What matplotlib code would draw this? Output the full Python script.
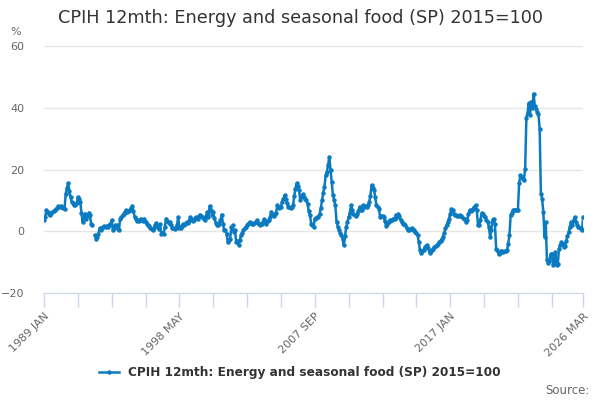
import matplotlib
matplotlib.use("Agg")
import matplotlib.pyplot as plt
import numpy as np

# monthly 12-month rate, %, 1989 JAN .. 2026 MAR
y1989 = [3.6, 4.5, 6.8, 6.2, 5.6, 5.4, 5.8, 6.2, 6.6, 6.8, 7.2, 7.6]
y1990 = [8.1, 7.8, 8.2, 8.0, 7.5, 7.3, 12.2, 14.0, 15.5, 13.0, 11.0, 9.5]
y1991 = [9.0, 8.6, 8.4, 9.0, 11.1, 10.5, 9.5, 6.0, 3.0, 4.5, 5.7, 4.1]
y1992 = [4.8, 6.0, 5.2, 2.5, 2.0, np.nan, -1.3, -2.4, -1.8, -0.8, 0.9, 0.5]
y1993 = [1.2, 1.5, 1.7, 1.4, 1.8, 1.5, 2.0, 2.2, 3.6, 0.3, 1.2, 1.9]
y1994 = [1.9, 0.8, 0.3, 4.1, 4.5, 5.2, 5.7, 6.3, 6.8, 6.2, 6.6, 7.0]
y1995 = [7.5, 8.2, 6.5, 4.6, 4.0, 3.4, 3.6, 3.2, 4.1, 3.5, 3.2, 4.1]
y1996 = [3.0, 2.4, 2.0, 1.6, 1.2, 0.8, 0.5, 1.0, 2.0, 2.7, 1.5, 0.8]
y1997 = [2.2, -0.8, -0.5, -0.8, 1.5, 4.1, 3.2, 2.6, 3.0, 2.0, 1.2, 0.9]
y1998 = [0.6, 0.9, 2.0, 4.6, 0.9, 1.2, 1.8, 2.2, 2.0, 2.5, 3.0, 2.8]
y1999 = [3.4, 4.6, 4.0, 3.2, 3.6, 4.2, 4.6, 4.0, 4.8, 5.4, 5.0, 4.6]
y2000 = [4.1, 3.6, 4.8, 6.1, 4.5, 8.2, 6.8, 5.4, 6.1, 4.2, 2.8, 1.9]
y2001 = [2.0, 2.4, 3.6, 5.4, 2.5, 0.3, 0.5, -0.8, -3.5, -2.8, -2.4, 1.4]
y2002 = [1.9, -0.2, 0.3, -3.5, -3.0, -4.5, -2.8, -1.3, -0.5, 0.5, 0.9, 1.4]
y2003 = [1.9, 2.5, 3.0, 2.8, 2.4, 2.2, 2.6, 3.0, 3.6, 2.8, 2.5, 1.9]
y2004 = [2.5, 3.0, 3.9, 3.2, 2.5, 3.2, 3.8, 4.6, 6.3, 5.5, 5.0, 5.6]
y2005 = [6.0, 8.4, 7.5, 7.7, 8.0, 9.5, 10.5, 11.7, 10.5, 9.0, 8.0, 7.9]
y2006 = [7.5, 7.9, 8.4, 11.5, 13.8, 15.5, 14.5, 13.3, 10.0, 11.0, 12.0, 11.2]
y2007 = [10.6, 10.0, 8.9, 6.5, 5.2, 2.5, 2.0, 1.4, 4.1, 4.3, 4.6, 4.6]
y2008 = [5.7, 7.5, 10.0, 12.5, 14.4, 18.1, 19.2, 21.5, 24.1, 19.8, 16.0, 11.7]
y2009 = [10.0, 8.4, 3.0, 1.5, 0.5, -0.5, -1.3, -2.5, -4.5, -1.5, 1.4, 3.0]
y2010 = [4.6, 6.0, 8.4, 7.0, 5.6, 5.2, 4.9, 5.5, 6.5, 7.9, 7.0, 6.8]
y2011 = [8.4, 8.0, 8.2, 7.9, 8.6, 9.5, 11.5, 14.9, 14.0, 13.3, 11.0, 8.4]
y2012 = [7.8, 7.3, 4.6, 5.0, 4.8, 4.6, 3.2, 1.7, 2.5, 3.0, 3.6, 3.6]
y2013 = [3.8, 4.1, 4.0, 5.2, 4.6, 5.7, 4.8, 3.6, 3.0, 2.5, 2.2, 1.9]
y2014 = [1.0, 0.3, 0.5, 0.6, 0.9, 0.4, 0.3, -0.2, -0.5, -1.3, -3.5, -6.2]
y2015 = [-7.2, -6.5, -6.0, -5.1, -4.8, -4.5, -5.5, -7.0, -6.5, -6.2, -5.6, -5.0]
y2016 = [-4.8, -4.5, -4.0, -3.5, -3.0, -2.5, -1.8, -0.5, 0.9, 2.0, 3.0, 4.1]
y2017 = [5.5, 7.3, 6.8, 5.7, 5.4, 5.2, 4.8, 5.0, 5.2, 5.0, 4.6, 4.1]
y2018 = [4.0, 3.0, 3.5, 5.5, 6.8, 6.5, 7.0, 7.3, 7.8, 8.4, 6.8, 1.9]
y2019 = [1.9, 3.5, 5.9, 5.7, 5.0, 4.6, 3.6, 3.0, 1.4, -1.8, 0.5, 3.8]
y2020 = [4.1, 2.2, -5.6, -6.2, -7.5, -7.0, -6.4, -6.4, -6.6, -6.4, -6.3, -6.2]
y2021 = [-4.0, -1.3, 5.3, 6.0, 6.8, 6.8, 7.0, 7.0, 7.0, 15.5, 18.1, 17.5]
y2022 = [17.0, 16.7, 20.3, 36.8, 38.4, 41.4, 37.6, 42.0, 40.0, 44.6, 40.5, 39.5]
y2023 = [38.7, 38.0, 33.0, 12.2, 10.6, 6.3, -1.8, 3.0, -9.4, -10.3, -9.5, -7.5]
y2024 = [-7.3, -11.0, -9.5, -6.8, -11.0, -10.5, -5.6, -4.5, -3.5, -4.0, -5.1, -4.8]
y2025 = [-3.0, -1.5, -0.2, 1.5, 3.0, 2.0, 3.5, 4.6, 3.0, 2.0, 1.5, 0.9]
y2026 = [1.0, 0.5, 4.6]

years = [y1989, y1990, y1991, y1992, y1993, y1994, y1995, y1996, y1997, y1998,
         y1999, y2000, y2001, y2002, y2003, y2004, y2005, y2006, y2007, y2008,
         y2009, y2010, y2011, y2012, y2013, y2014, y2015, y2016, y2017, y2018,
         y2019, y2020, y2021, y2022, y2023, y2024, y2025, y2026]
values = np.array([v for y in years for v in y], dtype=float)
months = np.arange(len(values))

label_pos = [0, 112, 224, 336, 446]
label_txt = ['1989 JAN', '1998 MAY', '2007 SEP', '2017 JAN', '2026 MAR']
tick_pos = list(range(0, 421, 28)) + [446]

LINE = '#0b7bc1'
GRID = '#e6e6e6'
AXIS = '#ccd6eb'
TXT = '#666666'

fig = plt.figure(figsize=(6, 4), dpi=100)
ax = fig.add_axes([0.0733, 0.2675, 0.8987, 0.6175])

ax.plot(months, values, color=LINE, lw=1.8, marker='o', ms=2.2,
        label='CPIH 12mth: Energy and seasonal food (SP) 2015=100', zorder=3)

ax.set_ylim(-20, 60)
ax.set_xlim(0, 446)
ax.set_yticks([-20, 0, 20, 40, 60])
ax.yaxis.grid(True, color=GRID, lw=1)
ax.set_axisbelow(True)
for s in ['top', 'right', 'left']:
    ax.spines[s].set_visible(False)
ax.spines['bottom'].set_color(AXIS)
ax.tick_params(axis='y', length=0, labelsize=8, labelcolor=TXT, pad=14)
for t in ax.get_yticklabels():
    t.set_horizontalalignment('right')

# labelled ticks are major, the rest minor
ax.set_xticks(label_pos)
ax.set_xticklabels(label_txt, rotation=45, ha='right',
                   rotation_mode='anchor', fontsize=8, color=TXT)
ax.set_xticks(tick_pos, minor=True)
ax.tick_params(axis='x', which='both', length=10, color=AXIS, width=1)
ax.tick_params(axis='x', which='major', pad=3)

fig.text(0.018, 0.912, '%', fontsize=8, color=TXT)
fig.text(0.5, 0.955, 'CPIH 12mth: Energy and seasonal food (SP) 2015=100',
         ha='center', va='center', fontsize=12.7, color='#333333')

leg = fig.legend(loc='center', bbox_to_anchor=(0.5, 0.068), frameon=False,
                 prop={'size': 8.7, 'weight': 'bold'}, handlelength=1.6)
for t in leg.get_texts():
    t.set_color('#333333')

fig.text(0.982, 0.025, 'Source:', ha='right', va='center', fontsize=8.5,
         color=TXT)

fig.savefig('out.png', dpi=100, facecolor='white')
